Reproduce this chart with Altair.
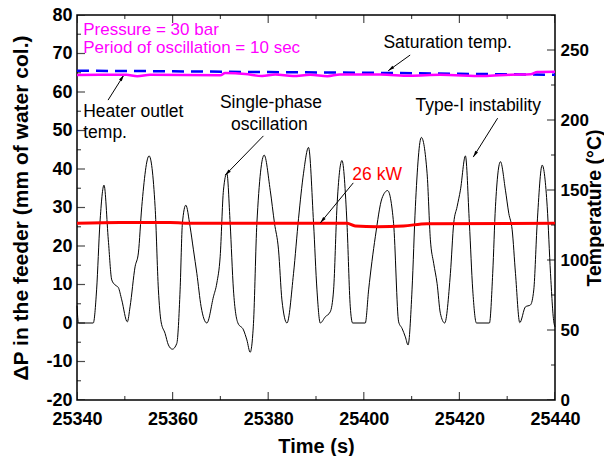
import altair as alt
import pandas as pd

FONT = "Liberation Sans"

# ---------------- data ----------------
# Pressure drop in the feeder (mm of water col.)
dp_time = [25340.0, 25340.3, 25343.4, 25344.1, 25344.8, 25345.65, 25346.55, 25347.27, 25347.96,
           25348.65, 25349.36, 25350.53, 25351.1, 25352.15, 25352.84, 25353.55, 25355.08, 25356.34,
           25357.03, 25357.59, 25358.43, 25359.12, 25359.96, 25360.88, 25361.57, 25362.05, 25362.76,
           25363.66, 25364.36, 25365.07, 25365.97, 25367.16, 25368.54, 25369.26, 25369.95, 25370.64,
           25371.35, 25372.04, 25372.73, 25373.66, 25374.83, 25375.54, 25376.23, 25376.92, 25377.63,
           25379.16, 25380.42, 25381.32, 25382.16, 25382.87, 25383.92, 25385.3, 25386.35, 25387.39,
           25388.44, 25389.49, 25390.2, 25390.89, 25391.94, 25392.98, 25393.68, 25394.39, 25395.43,
           25396.48, 25397.17, 25397.66, 25400.31, 25401.01, 25402.41, 25403.81, 25404.98, 25406.23,
           25407.29, 25408.0, 25408.69, 25409.26, 25410.09, 25410.79, 25412.04, 25413.24, 25413.93,
           25414.62, 25415.33, 25416.02, 25416.92, 25418.12, 25418.81, 25419.52, 25420.21, 25421.26,
           25422.09, 25422.79, 25423.56, 25426.28, 25426.97, 25427.54, 25428.59, 25429.63, 25430.33,
           25431.04, 25431.73, 25432.63, 25433.82, 25434.87, 25435.56, 25436.27, 25437.32, 25438.37,
           25439.06, 25439.75, 25440.0]
dp_value = [4.5, 0.0, 0.0, 8.6, 26.0, 35.8, 21.6, 11.2, 9.9,
            9.2, 6.0, 0.3, 4.2, 14.6, 18.2, 30.2, 43.4, 30.2,
            8.6, 0.3, -2.7, -5.7, -6.8, -5.3, 8.6, 25.9, 30.6,
            25.0, 19.0, 12.9, 4.2, 0.0, 6.8, 10.4, 17.2, 34.5,
            38.9, 25.9, 8.6, 0.0, -1.8, -4.4, -7.6, -0.1, 25.9,
            43.6, 34.5, 25.9, 19.0, 6.0, 0.0, 12.9, 27.2, 38.9,
            45.6, 25.9, 8.6, 0.0, 1.6, 2.9, 8.6, 30.2, 42.2,
            25.9, 4.2, 0.0, 0.0, 8.6, 22.4, 32.4, 34.4, 25.9,
            0.3, -1.4, -3.6, -5.7, 8.6, 30.2, 48.2, 38.9, 21.6,
            15.5, 10.3, 2.5, 0.0, 12.9, 25.9, 30.2, 34.5, 43.4,
            25.9, 8.6, 0.0, 0.0, 12.9, 30.2, 41.9, 34.5, 28.5,
            24.2, 12.9, 0.1, 4.2, 4.7, 8.6, 25.9, 41.0, 30.2,
            12.9, 0.3, -1.0]

# Heater power trace (drawn against the left axis), 26 kW
power_time = [25340, 25349, 25359.5, 25364.3, 25396.5, 25398.2, 25402.8, 25408.3, 25413.2, 25440]
power_value = [25.9, 26.1, 26.1, 25.9, 25.9, 25.2, 25.0, 25.2, 25.8, 25.9]

# Heater outlet temperature (deg C)
heater_time = [25340, 25344.8, 25350.3, 25352.6, 25355.3, 25370, 25371, 25375.2, 25378.7, 25381.5,
               25385.2, 25388.8, 25392.4, 25395, 25403.5, 25409.7, 25416, 25425, 25430.7, 25434.9,
               25436.3, 25440]
heater_temp = [232.1, 232.3, 232.4, 231.3, 232.3, 232.0, 233.5, 232.9, 231.4, 232.5,
               231.4, 232.3, 231.3, 232.5, 232.5, 231.6, 232.3, 231.4, 232.3, 232.6,
               234.3, 234.5]

# Saturation temperature (deg C)
sat_time = [25340, 25360, 25380, 25400, 25420, 25440]
sat_temp = [235.2, 234.8, 234.2, 233.8, 233.0, 232.3]

# axis ticks
x_major = [25340, 25360, 25380, 25400, 25420, 25440]
x_minor = [25350, 25370, 25390, 25410, 25430]
left_major = [-20, -10, 0, 10, 20, 30, 40, 50, 60, 70, 80]
left_minor = [-15, -5, 5, 15, 25, 35, 45, 55, 65, 75]
right_major = [0, 50, 100, 150, 200, 250]
right_minor = [25, 75, 125, 175, 225, 275]

# annotations
black_labels = ["Saturation temp.", "Heater outlet", "temp.", "Single-phase", "oscillation",
                "Type-I instability"]
black_label_t = [25404.1, 25341.3, 25341.3, 25369.9, 25372.2, 25410.8]
black_label_v = [72.7, 54.8, 49.4, 57.1, 51.4, 56.4]
magenta_labels = ["Pressure = 30 bar", "Period of oscillation = 10 sec"]
magenta_label_t = [25341.3, 25341.3]
magenta_label_v = [76.0, 71.3]
red_labels = ["26 kW"]
red_label_t = [25397.6]
red_label_v = [38.4]

arrow_t1 = [25409.7, 25346.5, 25379.0, 25428.0, 25397.8]
arrow_v1 = [69.6, 57.9, 48.6, 53.2, 36.4]
arrow_t2 = [25405.1, 25349.8, 25371.0, 25422.9, 25390.9]
arrow_v2 = [65.5, 64.4, 38.4, 43.1, 26.0]
arrow_angle = [234, 33, 224, 212, 220]

# ---------------- frames ----------------
dp_df = pd.DataFrame({"t": dp_time, "v": dp_value})
pw_df = pd.DataFrame({"t": power_time, "v": power_value})
ht_df = pd.DataFrame({"t": heater_time, "T": heater_temp})
st_df = pd.DataFrame({"t": sat_time, "T": sat_temp})
blk_df = pd.DataFrame({"label": black_labels, "t": black_label_t, "v": black_label_v})
mag_df = pd.DataFrame({"label": magenta_labels, "t": magenta_label_t, "v": magenta_label_v})
red_df = pd.DataFrame({"label": red_labels, "t": red_label_t, "v": red_label_v})
arr_df = pd.DataFrame({"t": arrow_t1, "v": arrow_v1, "t2": arrow_t2, "v2": arrow_v2, "ang": arrow_angle})

xs = alt.Scale(domain=[25340, 25440], nice=False, zero=False)
yl = alt.Scale(domain=[-20, 80], nice=False, zero=False)
yr = alt.Scale(domain=[0, 275], nice=False, zero=False)

LBL = dict(labelFontWeight="bold", titleFontWeight="bold",
           labelFont=FONT, titleFont=FONT, labelColor="black", titleColor="black",
           domain=False, ticks=False, grid=False, labelFlush=False, labelOverlap=False,
           labelExpr="'' + datum.value")

x_axis = alt.Axis(values=x_major, title="Time (s)", labelFontSize=18, titleFontSize=20,
                  labelPadding=10, titleBaseline="alphabetic", titlePadding=24, **LBL)
left_axis = alt.Axis(values=left_major, title="ΔP in the feeder (mm of water col.)", orient="left",
                     labelFontSize=18, titleFontSize=21, labelPadding=5, titlePadding=14, **LBL)
right_axis = alt.Axis(values=right_major, title="Temperature (°C)", orient="right", titleAngle=270,
                      labelFontSize=17, titleFontSize=19.5, titleBaseline="alphabetic",
                      labelPadding=5, titlePadding=12, **LBL)


def X(field):
    return alt.X(field, type="quantitative", scale=xs, axis=x_axis)


def YL(field):
    return alt.Y(field, type="quantitative", scale=yl, axis=left_axis)


def YR(field):
    return alt.Y(field, type="quantitative", scale=yr, axis=right_axis)


dp_line = alt.Chart(dp_df).mark_line(color="black", strokeWidth=1, interpolate="monotone").encode(
    x=X("t"), y=YL("v"))
pw_line = alt.Chart(pw_df).mark_line(color="#ff0000", strokeWidth=3, interpolate="monotone").encode(
    x=X("t"), y=YL("v"))


def vticks(vals, size, ydatum):
    df = pd.DataFrame({"t": vals})
    return alt.Chart(df).mark_tick(orient="vertical", size=size, thickness=1.2, color="black",
                                   clip=True).encode(
        x=X("t"), y=alt.YDatum(ydatum, type="quantitative", scale=yl, axis=left_axis))


def hticks(vals, size, xdatum, yfun):
    df = pd.DataFrame({"v": vals})
    return alt.Chart(df).mark_tick(orient="horizontal", size=size, thickness=1.2, color="black",
                                   clip=True).encode(
        x=alt.XDatum(xdatum, type="quantitative", scale=xs, axis=x_axis), y=yfun("v"))


tick_layers = [
    vticks(x_major, 16, -20), vticks(x_minor, 8, -20),
    vticks(x_major, 16, 80), vticks(x_minor, 8, 80),
    hticks(left_major, 16, 25340, YL), hticks(left_minor, 8, 25340, YL),
]


def texts(df, color, size=17.5):
    return alt.Chart(df).mark_text(align="left", baseline="middle", font=FONT, fontSize=size,
                                   color=color).encode(x=X("t"), y=YL("v"), text="label:N")


arrow_lines = alt.Chart(arr_df).mark_rule(color="black", strokeWidth=1).encode(
    x=X("t"), y=YL("v"), x2="t2:Q", y2="v2:Q")
arrow_heads = alt.Chart(arr_df).mark_point(shape="M0,0L0.45,1.8L-0.45,1.8Z", filled=True,
                                           color="black", size=50, opacity=1).encode(
    x=X("t2"), y=YL("v2"), angle=alt.Angle("ang:Q", scale=None))

left = alt.layer(dp_line, pw_line, *tick_layers, texts(blk_df, "black"),
                 texts(mag_df, "#ff00ff", 17), texts(red_df, "#ff0000"), arrow_lines, arrow_heads)

sat_line = alt.Chart(st_df).mark_line(color="#0000ff", strokeWidth=2.5, strokeDash=[12, 7]).encode(
    x=X("t"), y=YR("T"))
ht_line = alt.Chart(ht_df).mark_line(color="#ff00ff", strokeWidth=2.5, interpolate="monotone").encode(
    x=X("t"), y=YR("T"))
right = alt.layer(sat_line, ht_line, hticks(right_major, 16, 25440, YR),
                  hticks(right_minor, 8, 25440, YR))

chart = alt.layer(left, right).resolve_scale(y="independent").properties(
    width=478, height=385,
    padding={"left": 69, "top": 7, "right": 49, "bottom": 56},
    autosize=alt.AutoSizeParams(type="none"),
    background="white",
).configure_view(stroke="black", strokeWidth=1.5)

chart.save("out.html", embed_options={"renderer": "svg", "actions": False})
